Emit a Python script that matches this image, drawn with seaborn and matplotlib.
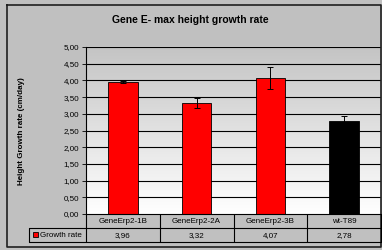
import numpy as np
import pandas as pd
import matplotlib
matplotlib.use("Agg")
import matplotlib.pyplot as plt
import seaborn as sns
from matplotlib.patches import Rectangle
from matplotlib.colors import LinearSegmentedColormap

categories = ["GeneErp2-1B", "GeneErp2-2A", "GeneErp2-3B", "wt-T89"]
values = [3.96, 3.32, 4.07, 2.78]
errors = [0.03, 0.16, 0.33, 0.15]
value_labels = ["3,96", "3,32", "4,07", "2,78"]
bar_colors = ["#ff0000", "#ff0000", "#ff0000", "#000000"]
series_name = "Growth rate"
title = "Gene E- max height growth rate"
ylabel = "Height Growth rate (cm/day)"
yticks = [0, 0.5, 1.0, 1.5, 2.0, 2.5, 3.0, 3.5, 4.0, 4.5, 5.0]

sns.set_theme(style="white")
plt.rcParams['font.family'] = ['Liberation Sans', 'DejaVu Sans']
plt.rcParams['text.color'] = '#000000'
plt.rcParams['ytick.color'] = '#000000'
plt.rcParams['ytick.labelcolor'] = '#000000'

W, H = 382, 250
fig = plt.figure(figsize=(W / 100, H / 100), dpi=100)
bg = "#c0c0c0"
fig.patch.set_facecolor(bg)

L, R, T, B = 86, 381, 47, 214
ax = fig.add_axes([L / W, 1 - B / H, (R - L) / W, (B - T) / H])
ax.set_facecolor("none")

df = pd.DataFrame({"cat": categories, "val": values})
grad = np.linspace(0, 1, 256).reshape(-1, 1)
cmap = LinearSegmentedColormap.from_list("g", ["#ffffff", "#c4c4c4"])
ax.imshow(grad, aspect="auto", cmap=cmap, extent=[-0.5, 3.5, 0, 5], origin="lower", zorder=0)

for yv in yticks[1:]:
    ax.axhline(yv, color="#000000", lw=0.8, zorder=1)

sns.barplot(data=df, x="cat", y="val", hue="cat", palette=bar_colors, legend=False,
            saturation=1, width=0.4, edgecolor="#000000", linewidth=0.6, ax=ax, zorder=2)
ax.errorbar(range(len(values)), values, yerr=errors, fmt="none", ecolor="#000000",
            elinewidth=0.7, capsize=2.2, capthick=0.7, zorder=3)

fs = 5.8
ax.set_xlim(-0.5, 3.5)
ax.set_ylim(0, 5)
ax.set_yticks(yticks)
ax.set_yticklabels([f"{v:.2f}".replace(".", ",") for v in yticks], fontsize=fs, color="#000000")
ax.tick_params(axis="y", length=3, width=0.6, color="#000000", pad=2, left=True)
ax.set_xticks([])
ax.set_xlabel("")
ax.set_ylabel("")
for s in ["top", "right", "bottom"]:
    ax.spines[s].set_visible(False)
ax.spines["left"].set_color("#000000")
ax.spines["left"].set_linewidth(0.8)

ov = fig.add_axes([0, 0, 1, 1], zorder=5)
ov.set_xlim(0, W)
ov.set_ylim(H, 0)
ov.axis("off")
ov.patch.set_alpha(0)

lc = "#000000"
ov.plot([7, 381, 381, 7, 7], [5, 5, 247, 247, 5], color="#202020", lw=1.2)

ov.text(190, 20, title, ha="center", va="center", fontsize=7.5, fontweight="bold", color="#000000")
ov.text(22, 131, ylabel, ha="center", va="center", rotation=90, fontsize=fs, fontweight="bold", color="#000000")

r0, r1, r2 = 214, 228, 242
colw = (R - L) / 4
ov.plot([L, R], [r0, r0], color=lc, lw=0.8)
ov.plot([29, R], [r1, r1], color=lc, lw=0.8)
ov.plot([29, R], [r2, r2], color=lc, lw=0.8)
ov.plot([29, 29], [r1, r2], color=lc, lw=0.8)
for i in range(5):
    x = L + i * colw
    ov.plot([x, x], [r0, r2], color=lc, lw=0.8)
for i in range(4):
    cx = L + (i + 0.5) * colw
    ov.text(cx, (r0 + r1) / 2 + 0.5, categories[i], ha="center", va="center", fontsize=fs, color="#000000")
    ov.text(cx, (r1 + r2) / 2 + 0.5, value_labels[i], ha="center", va="center", fontsize=fs, color="#000000")
ov.add_patch(Rectangle((32.5, 232), 5, 5, facecolor="#ff0000", edgecolor="#000000", lw=0.6))
ov.text(40, (r1 + r2) / 2 + 0.5, series_name, ha="left", va="center", fontsize=fs, color="#000000")

fig.savefig("out.png", dpi=100, facecolor=bg)
